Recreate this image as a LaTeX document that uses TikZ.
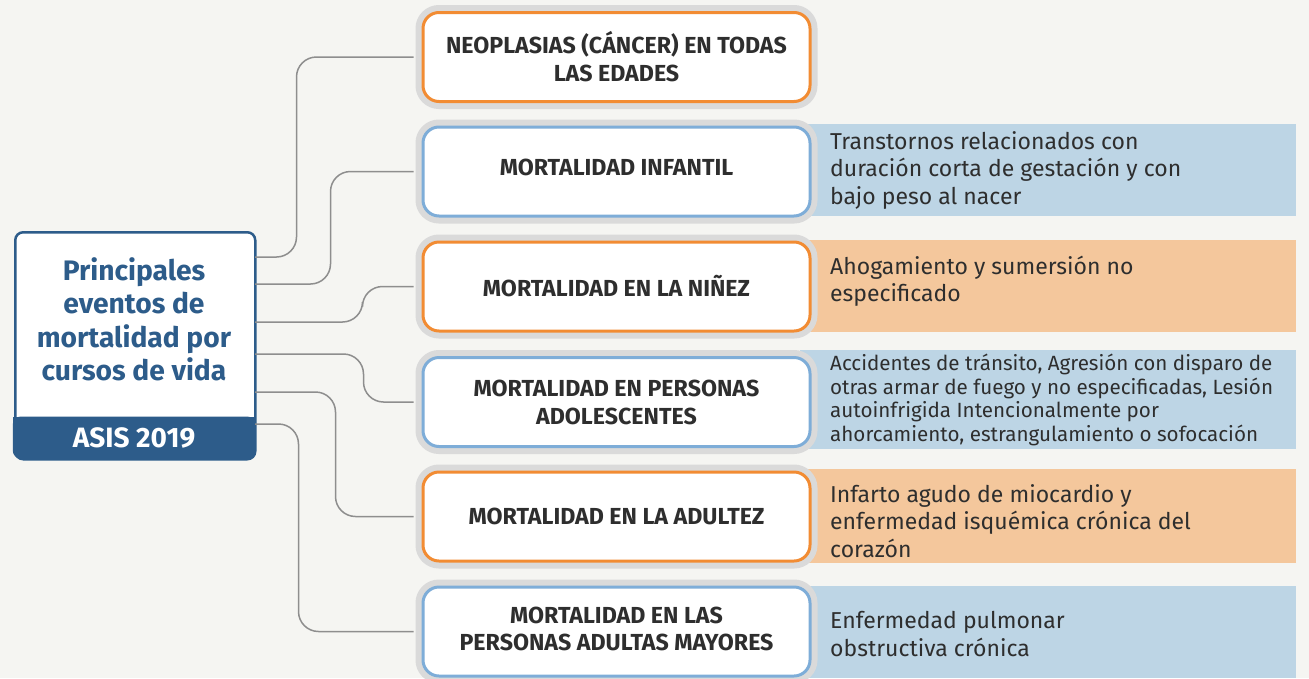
\documentclass[tikz,border=0pt]{standalone}
\usepackage{fontspec}
\setmainfont{Fira Sans}
\definecolor{bg}{HTML}{F5F5F2}
\definecolor{navy}{HTML}{2D5C8A}
\definecolor{lblueb}{HTML}{7EADD8}
\definecolor{orangeb}{HTML}{F28C33}
\definecolor{halo}{HTML}{DADADA}
\definecolor{rblue}{HTML}{BDD5E5}
\definecolor{rpeach}{HTML}{F4C79C}
\definecolor{connc}{HTML}{8E8E8E}
\definecolor{txt}{HTML}{2E2E2E}
\tikzset{
 midbox/.style={fill=white, line width=3pt, rounded corners=16pt, minimum width=387pt, minimum height=89pt, inner sep=0pt, align=center, text=txt, font=\bfseries\fontsize{23.2}{28}\selectfont, preaction={draw=halo, line width=15pt}},
 obox/.style={midbox, draw=orangeb},
 bbox/.style={midbox, draw=lblueb},
 sidebox/.style={minimum width=496pt, anchor=west, inner sep=0pt},
 sidetext/.style={anchor=west, align=left, inner sep=0pt, text=txt, font=\fontsize{23}{27.5}\selectfont},
 link/.style={draw=connc, line width=1.5pt, rounded corners=20pt},
}
\begin{document}
\begin{tikzpicture}[x=1pt,y=-1pt]
\useasboundingbox (0,0) rectangle (1309,678);
\fill[bg] (0,0) rectangle (1309,678);
% side boxes
\node[sidebox, fill=rblue, minimum height=92pt] (r2) at (800,170) {};
\node[sidebox, fill=rpeach, minimum height=92pt] (r3) at (800,286) {};
\node[sidebox, fill=rblue, minimum height=99pt] (r4) at (800,399.5) {};
\node[sidebox, fill=rpeach, minimum height=94pt] (r5) at (800,516) {};
\node[sidebox, fill=rblue, minimum height=92pt] (r6) at (800,632) {};
\node[sidetext] (t2) at (830,170) {Transtornos relacionados con\\duración corta de gestación y con\\bajo peso al nacer};
\node[sidetext] (t3) at (830,281) {Ahogamiento y sumersión no\\especificado};
\node[sidetext, font=\fontsize{20.6}{23.5}\selectfont] (t4) at (830,400) {Accidentes de tránsito, Agresión con disparo de\\otras armar de fuego y no especificadas, Lesión\\autoinfrigida Intencionalmente por\\ahorcamiento, estrangulamiento o sofocación};
\node[sidetext] (t5) at (830,521) {Infarto agudo de miocardio y\\enfermedad isquémica crónica del\\corazón};
\node[sidetext] (t6) at (830,634) {Enfermedad pulmonar\\obstructiva crónica};
% middle boxes
\node[obox] (m1) at (616.5,57) {NEOPLASIAS (CÁNCER) EN TODAS\\LAS EDADES};
\node[bbox] (m2) at (616.5,171.5) {\raisebox{8pt}{MORTALIDAD INFANTIL}};
\node[obox] (m3) at (616.5,286.5) {MORTALIDAD EN LA NIÑEZ};
\node[bbox] (m4) at (616.5,402) {MORTALIDAD EN PERSONAS\\ADOLESCENTES};
\node[obox] (m5) at (616.5,516.5) {MORTALIDAD EN LA ADULTEZ};
\node[bbox] (m6) at (616.5,631.5) {\raisebox{3pt}{\begin{tabular}{@{}c@{}}MORTALIDAD EN LAS\\[-0.5pt]PERSONAS ADULTAS MAYORES\end{tabular}}};
% left box
\node[draw=navy, line width=2.5pt, fill=white, rounded corners=8pt, minimum width=240pt, minimum height=227pt, anchor=north west, inner sep=0pt] (L) at (14,231) {};
\node[fill=navy, rounded corners=8pt, minimum width=242.5pt, minimum height=42pt, inner sep=0pt] (band) at (134,437.5) {};
\fill[navy] (12.75,416.5) rectangle (255.25,428);
\node[text=white, font=\bfseries\fontsize{28}{30}\selectfont, inner sep=0pt] (asis) at (134,437.5) {ASIS 2019};
\node[align=center, text=navy, font=\bfseries\fontsize{28.2}{33.5}\selectfont, inner sep=0pt] (T) at (134,319.5) {Principales\\eventos de\\mortalidad por\\cursos de vida};
% connectors
\coordinate (s1) at (255,257);
\coordinate (s2) at (255,284);
\coordinate (s3) at (255,322);
\coordinate (s4) at (255,354);
\coordinate (s5) at (255,392);
\coordinate (s6) at (255,424);
\draw[link] (s1) -| ([xshift=-125pt]m1.west) -- ([xshift=-8pt]m1.west);
\draw[link] (s2) -| ([xshift=-91pt]m2.west) -- ([xshift=-8pt]m2.west);
\draw[link] (s3) -| ([xshift=-59pt]m3.west) -- ([xshift=-8pt]m3.west);
\draw[link] (s4) -| ([xshift=-58pt]m4.west) -- ([xshift=-8pt]m4.west);
\draw[link] (s5) -| ([xshift=-86pt]m5.west) -- ([xshift=-8pt]m5.west);
\draw[link] (s6) -| ([xshift=-123pt]m6.west) -- ([xshift=-8pt]m6.west);
\end{tikzpicture}
\end{document}
